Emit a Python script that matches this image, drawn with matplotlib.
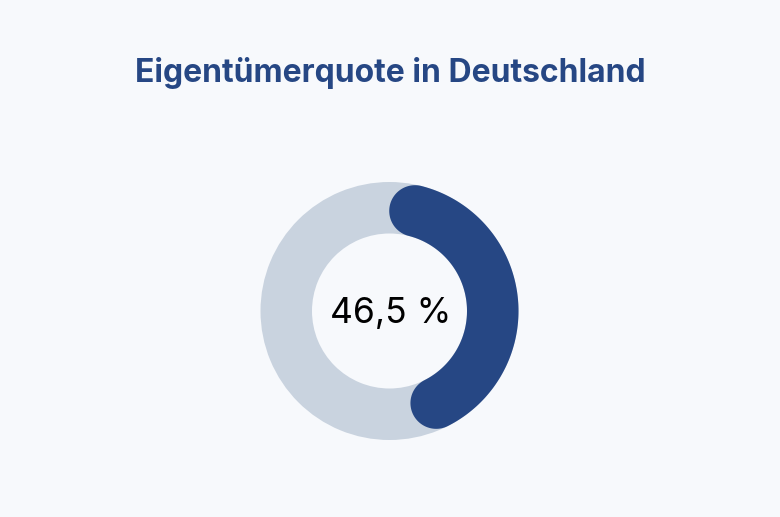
import numpy as np
import matplotlib
matplotlib.use("Agg")
import matplotlib.pyplot as plt
from matplotlib.patches import Polygon, Wedge

# Data
title = "Eigentümerquote in Deutschland"
value = 46.5          # percent
label = "46,5 %"

# Style
BG = "#F7F9FC"
DARK = "#264784"
LIGHT = "#C9D3DF"

W, H = 780, 517
fig = plt.figure(figsize=(W / 100, H / 100), dpi=100, facecolor=BG)
ax = fig.add_axes([0, 0, 1, 1])
ax.set_xlim(0, W)
ax.set_ylim(H, 0)
ax.set_aspect("equal")
ax.axis("off")
ax.set_facecolor(BG)

cx, cy = 389.5, 311.0
r_out, r_in = 129.0, 77.5
r_mid = (r_out + r_in) / 2
half = (r_out - r_in) / 2

# background ring
ax.add_patch(Wedge((cx, cy), r_out, 0, 360, width=r_out - r_in,
                   facecolor=LIGHT, edgecolor="none"))

# value arc (clockwise from 12 o'clock), rounded ends inset within the sector
span = value / 100 * 2 * np.pi
inset = half / r_mid
a1, a2 = inset, span - inset


def pt(r, a):
    return cx + r * np.sin(a), cy - r * np.cos(a)


pts = []
for a in np.linspace(a1, a2, 200):
    pts.append(pt(r_out, a))
ex, ey = pt(r_mid, a2)
rad = np.array([np.sin(a2), -np.cos(a2)])
tan = np.array([np.cos(a2), np.sin(a2)])
for t in np.linspace(0, np.pi, 60):
    d = rad * np.cos(t) + tan * np.sin(t)
    pts.append((ex + half * d[0], ey + half * d[1]))
for a in np.linspace(a2, a1, 200):
    pts.append(pt(r_in, a))
sx, sy = pt(r_mid, a1)
rad = np.array([np.sin(a1), -np.cos(a1)])
tan = np.array([np.cos(a1), np.sin(a1)])
for t in np.linspace(0, np.pi, 60):
    d = -rad * np.cos(t) - tan * np.sin(t)
    pts.append((sx + half * d[0], sy + half * d[1]))

ax.add_patch(Polygon(pts, closed=True, facecolor=DARK, edgecolor="none"))

ax.text(cx + 1, 323, label, ha="center", va="baseline", fontsize=25.5,
        family="Inter", color="#000000")

ax.text(390, 82, title, ha="center", va="baseline", fontsize=23,
        family="Inter", fontweight="bold", color=DARK)

fig.savefig("out.png", dpi=100, facecolor=BG)
